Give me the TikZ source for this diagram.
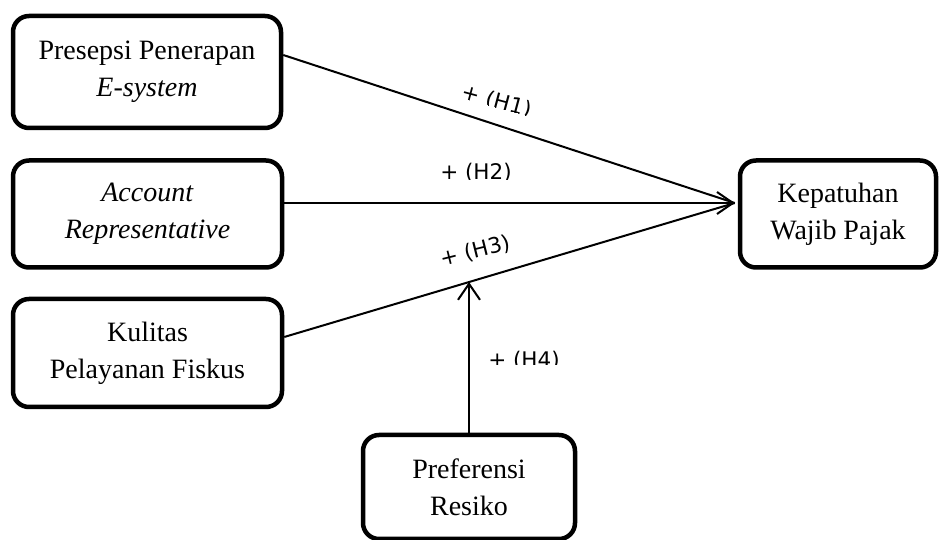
\documentclass[tikz,border=0pt]{standalone}
\usepackage{fontspec}
\setmainfont{Liberation Serif}
\newfontfamily\hypfont{DejaVu Sans}
\usetikzlibrary{arrows.meta,calc}
\begin{document}
\begin{tikzpicture}[x=1pt,y=1pt,
  varbox/.style={draw, line width=4.5pt, rounded corners=16pt, align=center,
    inner sep=0pt, font=\fontsize{28}{37}\selectfont},
  link/.style={line width=2pt},
  head/.style={-{Straight Barb[length=16pt,width=22pt]}},
  hyp/.style={font=\hypfont\fontsize{21.5}{25}\selectfont, inner sep=0pt,
    anchor=base, transform shape}]
\useasboundingbox (0,0) rectangle (944,540);

% variables
\node[varbox, minimum width=268pt, minimum height=112pt] (pe) at (147,468)
  {Presepsi Penerapan\\\textit{E-system}};
\node[varbox, minimum width=269pt, minimum height=107pt] (ar) at (147.5,326)
  {\textit{Account}\\\textit{Representative}};
\node[varbox, minimum width=269pt, minimum height=108pt] (kp) at (147.5,187)
  {Kulitas\\Pelayanan Fiskus};
\node[varbox, minimum width=196pt, minimum height=107pt] (wp) at (838,326)
  {Kepatuhan\\Wajib Pajak};
\node[varbox, minimum width=212pt, minimum height=104pt] (pr) at (469,53)
  {Preferensi\\Resiko};

% connection points
\coordinate (tip) at ($(wp.west)+(-3,11)$);
\coordinate (s1) at ($(pe.east)+(0,17)$);
\coordinate (s2) at ($(ar.east)+(0,11)$);
\coordinate (s3) at ($(kp.east)+(0,16)$);
\coordinate (j) at ($(s3)!0.41!(tip)$);

% paths
\draw[link] (s1) -- (tip);
\draw[link, head] (s2) -- (tip);
\draw[link] (s3) -- (tip);
\draw[link, head] (pr.north) -- (pr.north |- j);

% hypothesis labels
\begin{scope}[shift={(495,432)}, rotate=-15]
  \clip (-60,1) rectangle (60,30);
  \node[hyp] (h1) at (0,0) {+ (H1)};
\end{scope}
\begin{scope}[shift={(476,360)}]
  \clip (-60,0.5) rectangle (60,30);
  \node[hyp] (h2) at (0,0) {+ (H2)};
\end{scope}
\begin{scope}[shift={(477,282)}, rotate=14]
  \node[hyp] (h3) at (0,0) {+ (H3)};
\end{scope}
\begin{scope}[shift={(524,172)}]
  \clip (-60,3) rectangle (60,30);
  \node[hyp] (h4) at (0,0) {+ (H4)};
\end{scope}
\end{tikzpicture}
\end{document}
